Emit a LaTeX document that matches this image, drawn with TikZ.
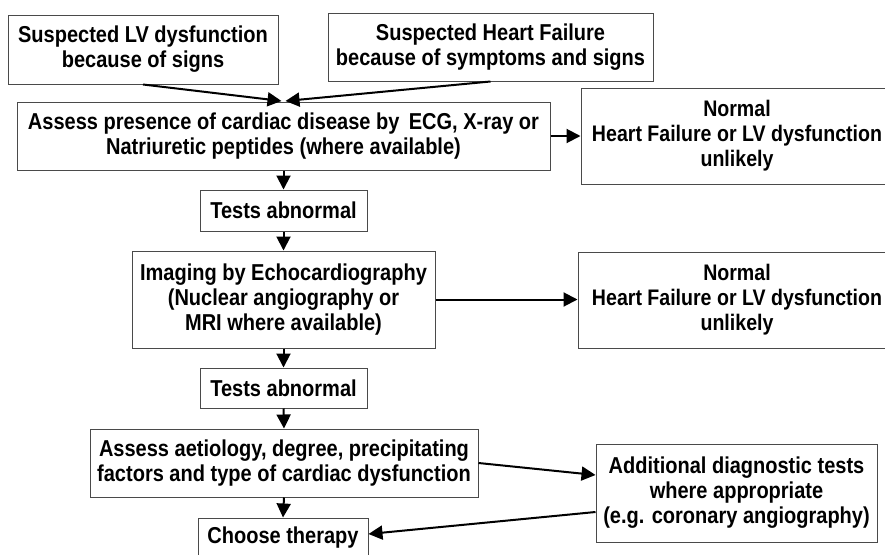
\documentclass[tikz,border=0pt]{standalone}
\usepackage{fontspec}
\setmainfont[FakeStretch=0.87]{Liberation Sans}
\definecolor{GrisCadre}{HTML}{4A4A4A}
\usetikzlibrary{arrows.meta}
\tikzset{
	boite/.style={draw=GrisCadre, line width=1, inner sep=0, align=center,
		font=\bfseries\fontsize{23}{25}\selectfont},
	normale/.style={boite, minimum height=96, font=\bfseries\fontsize{22.5}{25}\selectfont},
	fleche/.style={line width=2, arrows={-Stealth[length=14, width=14, inset=0]}}
}
\begin{document}
\begin{tikzpicture}[x=1pt,y=-1pt]
    \useasboundingbox (0,0) rectangle (885,554);
    % Starting points
    \node[boite, minimum width=270, minimum height=69] (signes) at (143,49.5) {Suspected LV dysfunction\\because of signs};
    \node[boite, minimum width=325, minimum height=68] (symptomes) at (490.5,47) {Suspected Heart Failure\\because of symptoms and signs};
    \coordinate (jonction) at (283.5,101);

    % Main column
    \node[boite, minimum width=533, minimum height=68] (presence) at (283.5,136) {Assess presence of cardiac disease by\, ECG, X-ray or\\Natriuretic peptides (where available)};
    \node[boite, minimum width=167, minimum height=41] (anormal1) at (283.5,210.5) {Tests abnormal};
    \node[boite, minimum width=303, minimum height=97] (imagerie) at (283.5,299.5) {Imaging by Echocardiography\\(Nuclear angiography or\\MRI where available)};
    \node[boite, minimum width=167, minimum height=40] (anormal2) at (283.5,388) {Tests abnormal};
    \node[boite, minimum width=388, minimum height=68] (etiologie) at (284,463) {Assess aetiology, degree, precipitating\\factors and type of cardiac dysfunction};
    \node[boite, minimum width=170, minimum height=40] (therapie) at (283,538) {Choose therapy};

    % Right column
    \node[normale, minimum width=312] (normal1) at (737,136) {Normal\\Heart Failure or LV dysfunction\\unlikely};
    \node[normale, minimum width=318] (normal2) at (737,300) {Normal\\Heart Failure or LV dysfunction\\unlikely};
    \node[boite, minimum width=281, minimum height=98] (examens) at (736.5,493) {Additional diagnostic tests\\where appropriate\\(e.g. coronary angiography)};

    \draw[fleche] (signes.south) -- ([xshift=-2]jonction);
    \draw[fleche] (symptomes.south) -- ([xshift=2]jonction);
    \foreach \a/\b in {presence/anormal1, anormal1/imagerie, imagerie/anormal2, anormal2/etiologie, etiologie/therapie} {
        \draw[fleche] (\a.south) -- (\b.north);
    }
    \draw[fleche] (presence.east) -- (normal1.west);
    \draw[fleche] (imagerie.east) -- (imagerie.east -| normal2.west);
    \draw[fleche] (etiologie.east) -- ([yshift=18]examens.west);
    \draw[fleche] ([yshift=-19]examens.west) -- ([yshift=4]therapie.east);
\end{tikzpicture}
\end{document}
